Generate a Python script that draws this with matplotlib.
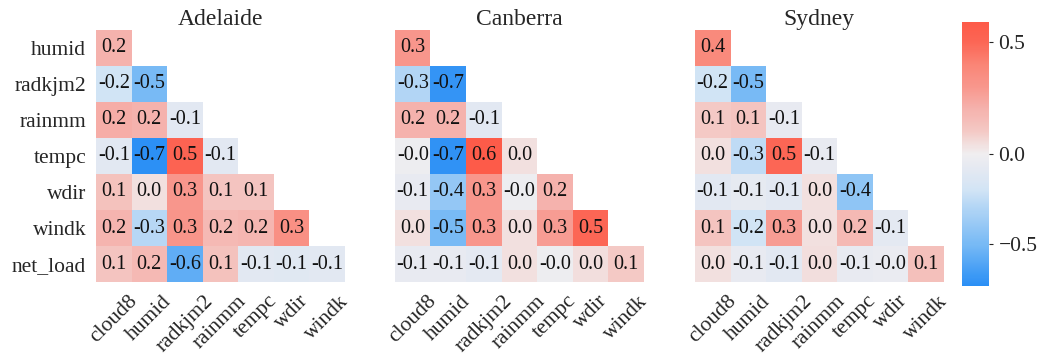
import matplotlib.pyplot as plt
import matplotlib.colors as mcolors
import numpy as np

plt.rcParams['font.family'] = ['Liberation Serif', 'DejaVu Serif']

#Variables
row_labels = ['humid', 'radkjm2', 'rainmm', 'tempc', 'wdir', 'windk', 'net_load']
col_labels = ['cloud8', 'humid', 'radkjm2', 'rainmm', 'tempc', 'wdir', 'windk']
cities = ['Adelaide', 'Canberra', 'Sydney']

# lower triangle, one list per row
adelaide = [
    [0.2],
    [-0.2, -0.5],
    [0.22, 0.2, -0.1],
    [-0.1, -0.72, 0.52, -0.1],
    [0.13, 0.04, 0.3, 0.12, 0.12],
    [0.19, -0.28, 0.31, 0.17, 0.18, 0.34],
    [0.12, 0.17, -0.57, 0.13, -0.1, -0.11, -0.1],
]
canberra = [
    [0.3],
    [-0.3, -0.7],
    [0.2, 0.2, -0.1],
    [-0.02, -0.71, 0.58, 0.04],
    [-0.06, -0.4, 0.3, -0.02, 0.2],
    [0.04, -0.5, 0.3, 0.04, 0.28, 0.5],
    [-0.06, -0.06, -0.08, 0.04, -0.02, 0.045, 0.1],
]
sydney = [
    [0.37],
    [-0.2, -0.5],
    [0.1, 0.12, -0.06],
    [0.04, -0.26, 0.5, -0.06],
    [-0.1, -0.07, -0.1, 0.04, -0.42],
    [0.12, -0.2, 0.28, 0.04, 0.17, -0.09],
    [0.04, -0.06, -0.1, 0.045, -0.06, -0.04, 0.14],
]
city_data = [adelaide, canberra, sydney]
vmin, vmax = -0.73, 0.59

def to_matrix(rows):
    n = len(rows)
    m = np.full((n, n), np.nan)
    for i, r in enumerate(rows):
        m[i, :len(r)] = r
    return np.ma.masked_invalid(m)

# colour nodes, in data units
nodes = [(-0.73, '#2a8ff5'), (-0.5, '#78baf5'), (-0.3, '#b2d5f5'),
         (-0.2, '#d2e4f5'), (-0.1, '#e2e8f2'), (0.0, '#f0eef0'),
         (0.05, '#f2dcda'), (0.1, '#f4c9c5'), (0.2, '#f5b2ad'),
         (0.3, '#f8978d'), (0.4, '#fa8576'), (0.5, '#fc6655'), (0.59, '#fd5a48')]
norm = mcolors.TwoSlopeNorm(vcenter=0.0, vmin=vmin, vmax=vmax)
cmap = mcolors.LinearSegmentedColormap.from_list(
    'corr', [(float(norm(v)), c) for v, c in nodes])

fig = plt.figure(figsize=(10.41, 3.55), dpi=100)
lefts = [0.0922, 0.3794, 0.6676]
for k, city in enumerate(cities):
    ax = fig.add_axes([lefts[k], 0.2056, 0.239, 0.71])
    m = to_matrix(city_data[k])
    mesh = ax.pcolormesh(m, cmap=cmap, norm=norm)
    for i in range(m.shape[0]):
        for j in range(m.shape[1]):
            if not np.ma.is_masked(m[i, j]):
                ax.text(j + 0.5, i + 0.5, format(m[i, j], '.1f'),
                        ha='center', va='center', fontsize=14.5, color='#111111')
    ax.set_xlim(0, 7)
    ax.set_ylim(7, 0)
    ax.set_xticks(np.arange(7) + 0.5)
    ax.set_xticklabels(col_labels, rotation=45, fontsize=15.5, color='#262626')
    ax.set_yticks(np.arange(7) + 0.5)
    if k == 0:
        ax.set_yticklabels(row_labels, fontsize=15.5, color='#262626')
    else:
        ax.set_yticklabels([])
    ax.tick_params(length=0, pad=7)
    for s in ax.spines.values():
        s.set_visible(False)
    ax.set_title(city, fontsize=17, color='#262626', pad=3)

cax = fig.add_axes([0.9245, 0.195, 0.026, 0.744])
cb = fig.colorbar(mesh, cax=cax, ticks=[-0.5, 0.0, 0.5])
cb.outline.set_visible(False)
cb.ax.set_yticklabels(['\u22120.5', '0.0', '0.5'])
cb.ax.tick_params(labelsize=15.5, length=3, color='#262626', labelcolor='#262626')
cb.ax.set_ylim(vmin, vmax)

plt.savefig('out.png', dpi=100)
